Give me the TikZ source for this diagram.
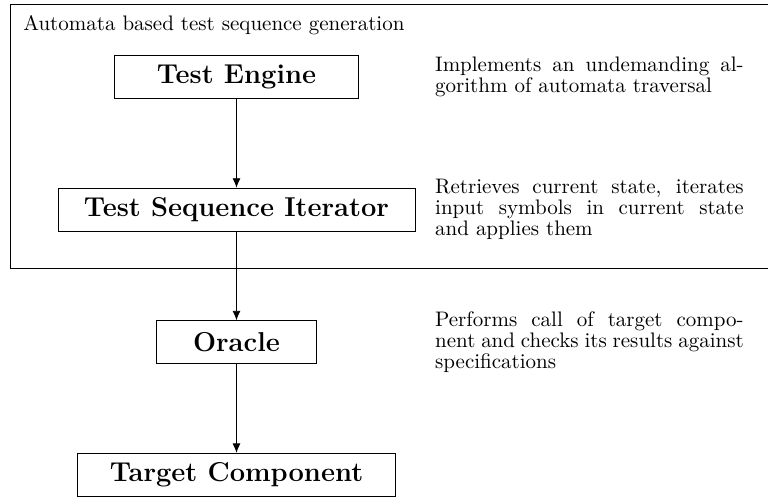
\documentclass[tikz,border=0pt]{standalone}
\usetikzlibrary{arrows.meta}
\begin{document}
\begin{tikzpicture}[
		block/.style={draw, minimum height=0.72cm, font=\fontsize{13}{15}\selectfont\bfseries},
		note/.style={anchor=west, inner sep=0pt, text width=147pt, align=justify, font=\fontsize{10}{10}\selectfont},
		flow/.style={-{Latex[length=4.5pt,width=3.8pt]}}
	]
		\useasboundingbox (0,0) rectangle (12.86,-8.34);
		% frame of the automata part
		\draw (0.17,-0.07) rectangle (13.2,-4.49);
		\node[anchor=base west, inner sep=0pt] (title) at (0.385,-0.51) {Automata based test sequence generation};
		% the chain of blocks
		\node[block, minimum width=4.08cm] (engine) at (3.96,-1.29) {Test Engine};
		\node[block, minimum width=5.98cm] (iter) at (3.96,-3.51) {Test Sequence Iterator};
		\node[block, minimum width=2.68cm] (oracle) at (3.96,-5.73) {Oracle};
		\node[block, minimum width=5.32cm] (target) at (3.96,-7.95) {Target Component};
		\draw[flow] (engine) -- (iter);
		\draw[flow] (iter) -- (oracle);
		\draw[flow] (oracle) -- (target);
		% notes on the right
		\coordinate (col) at (7.28,0);
		\node[note] (enginenote) at (engine -| col) {Implements an undemanding al-\linebreak gorithm of automata traversal};
		\node[note] (iternote) at (iter -| col) {Retrieves current state, iterates\linebreak input symbols in current state\linebreak and applies them};
		\node[note] (oraclenote) at (oracle -| col) {Performs call of target compo-\linebreak nent and checks its results against\linebreak specifications};
	\end{tikzpicture}
\end{document}
